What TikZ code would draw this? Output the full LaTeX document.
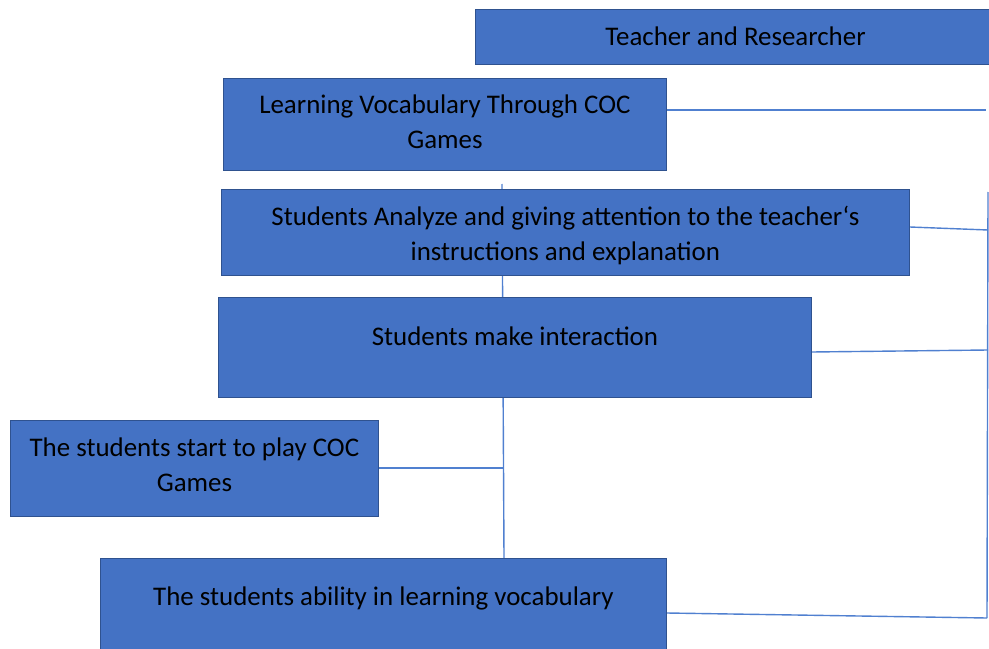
\documentclass[tikz,border=0pt]{standalone}
\usepackage{fontspec}
\setmainfont{Carlito}
\usetikzlibrary{backgrounds}
\definecolor{boxfill}{HTML}{4472C4}
\definecolor{boxline}{HTML}{2F528F}
\definecolor{wire}{HTML}{5080D0}
\begin{document}
\begin{tikzpicture}[x=1bp,y=-1bp,
  box/.style={rectangle, fill=boxfill, draw=boxline, line width=0.8bp,
    inner sep=0pt, anchor=north west},
  txt/.style={align=center, inner sep=0pt, text=black,
    font=\fontsize{27}{35}\selectfont},
  link/.style={draw=wire, line width=1.4bp}]
\useasboundingbox (0,0) rectangle (989,649);
\clip (0,0) rectangle (989,649);

% boxes of the flow
\node[box, minimum width=521bp, minimum height=55bp] (tr) at (475,9) {};
\node[txt] (trT) at (735.5,36) {Teacher and Researcher};

\node[box, minimum width=443bp, minimum height=92bp] (learn) at (223,78) {};
\node[txt, yshift=3bp] (learnT) at (learn.center) {Learning Vocabulary Through COC\\Games};

\node[box, minimum width=688bp, minimum height=86bp] (analyze) at (221,189) {};
\node[txt, yshift=-3bp] (analyzeT) at (analyze.center) {Students Analyze and giving attention to the teacher`s\\instructions and explanation};

\node[box, minimum width=593bp, minimum height=100bp] (inter) at (218,297) {};
\node[txt, yshift=11bp] (interT) at (inter.center) {Students make interaction};

\node[box, minimum width=368bp, minimum height=96bp] (play) at (10,420) {};
\node[txt, yshift=3.5bp] (playT) at (play.center) {The students start to play COC\\Games};

\node[box, minimum width=566bp, minimum height=100bp] (ability) at (100,558) {};
\node[txt, yshift=10bp] (abilityT) at (ability.center) {The students ability in learning vocabulary};

% connector ends
\coordinate (spineTop) at (502,184);
\coordinate (railTop) at (988,192);
\coordinate (railBot) at (987,618);
\coordinate (learnEnd) at (986,110);
\coordinate (analyzeEnd) at (988,230);
\coordinate (interEnd) at (988,350);
\coordinate (playJoin) at (504,468);

\begin{scope}[on background layer]
  \draw[link] (spineTop) -- (ability.north -| 504,0);
  \draw[link] (play.east |- playJoin) -- (playJoin);
  \draw[link] (railTop) -- (railBot);
  \draw[link] (learn.east |- learnEnd) -- (learnEnd);
  \draw[link] (analyze.east |- 0,227) -- (analyzeEnd);
  \draw[link] (inter.east |- 0,352) -- (interEnd);
  \draw[link] (ability.east |- 0,613) -- (railBot);
\end{scope}
\end{tikzpicture}
\end{document}
